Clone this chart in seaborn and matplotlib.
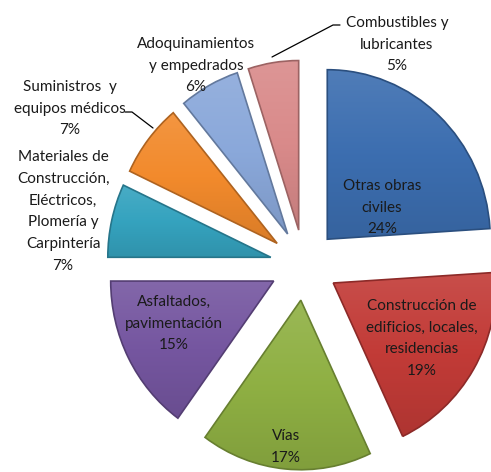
import matplotlib
matplotlib.use("Agg")
import matplotlib.pyplot as plt
import seaborn as sns
import numpy as np
from matplotlib.colors import to_rgb
from matplotlib.patches import PathPatch

# ---------------- data ----------------
categories = [
    "Otras obras\nciviles",
    "Construcción de\nedificios, locales,\nresidencias",
    "Vías",
    "Asfaltados,\npavimentación",
    "Materiales de\nConstrucción,\nEléctricos,\nPlomería y\nCarpintería",
    "Suministros  y\nequipos médicos",
    "Adoquinamientos\ny empedrados",
    "Combustibles y\nlubricantes",
]
values = [24, 19, 17, 15, 7, 7, 6, 5]
colors = ["#3C6EB0", "#C23B37", "#8FB043", "#7556A0",
          "#35A3BF", "#F28A2C", "#8AA8DA", "#D98A8A"]

# ---------------- style ----------------
sns.set_theme(style="white")
plt.rcParams["font.family"] = ["Lato", "DejaVu Sans"]

W, H = 491, 472
K = 1.04  # slight vertical stretch of the original picture
fig = plt.figure(figsize=(W / 100, H / 100), dpi=100)
ax = fig.add_axes([0, 0, 1, 1])

R = 163
CX, CY = 304, (H - 265) / K
explode = [34] * len(values)  # absolute offset in data units

wedges, _ = ax.pie(values, colors=colors, startangle=90, counterclock=False,
                   radius=R, center=(CX, CY), explode=explode,
                   wedgeprops=dict(linewidth=0))

ax.set_aspect("auto")
ax.axis("off")

# soft shading clipped to each wedge
for w, c in zip(wedges, colors):
    base = np.array(to_rgb(c))
    light = base + (1 - base) * 0.10
    dark = base * 0.90
    t = np.linspace(0, 1, 64)[:, None]
    grad = np.where(t < 0.5, light + (base - light) * (t / 0.5),
                    base + (dark - base) * ((t - 0.5) / 0.5))
    img = grad[:, None, :].repeat(2, axis=1)
    path = w.get_path().transformed(w.get_patch_transform())
    ext = path.get_extents()
    im = ax.imshow(img, extent=[ext.x0, ext.x1, ext.y0, ext.y1],
                   origin="upper", aspect="auto", zorder=2, interpolation="bilinear")
    im.set_clip_path(w)
    ax.add_patch(PathPatch(path, facecolor="none",
                           edgecolor=tuple(base * 0.72), lw=1.2, zorder=3))

ax.set_xlim(0, W)
ax.set_ylim(0, H / K)

# ---------------- labels ----------------
label_pos = [  # (x, y) pixel of first line centre
    (382, 186), (422, 306), (286, 436), (174, 302),
    (63, 157), (70, 87), (196, 44), (397, 23),
]
LS = 21.7
for (x, y), cat, v in zip(label_pos, categories, values):
    lines = cat.split("\n") + [f"{v}%"]
    for i, line in enumerate(lines):
        fig.text(x / W, 1 - (y + i * LS) / H, line, ha="center", va="center",
                 fontsize=11, color="#1a1a1a")

def px(xs, ys):
    return list(xs), [(H - y) / K for y in ys]

for xs, ys in [([272, 333, 340], [57, 25, 25]), ([153, 132, 125], [128, 112, 112])]:
    a, b = px(xs, ys)
    ax.plot(a, b, color="black", lw=0.9, zorder=4)

fig.savefig("out.png", dpi=100)
